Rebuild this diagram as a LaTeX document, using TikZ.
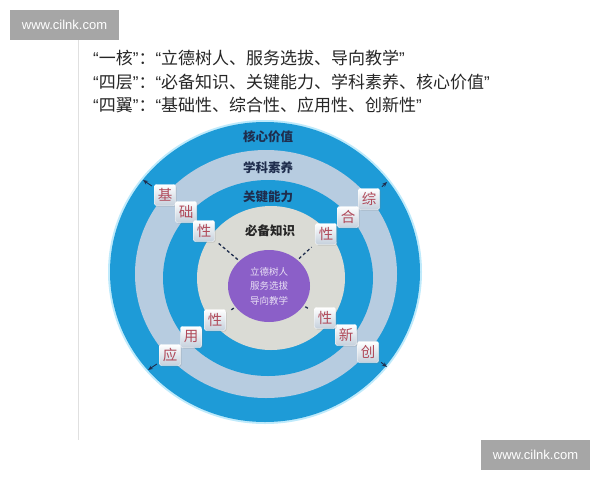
\documentclass[tikz,border=0pt]{standalone}
\usepackage{fontspec}
\setmainfont{Liberation Sans}
\newfontfamily\cjk{Noto Sans CJK SC}
\usetikzlibrary{arrows.meta,shapes.geometric,shadows}

\definecolor{ringblue}{HTML}{1E9BD7}
\definecolor{ringpale}{HTML}{B7CCE0}
\definecolor{ringbeige}{HTML}{DADBD5}
\definecolor{corepurple}{HTML}{8B5FC8}
\definecolor{ringtext}{HTML}{1F2D4D}
\definecolor{wingred}{HTML}{B04A5A}
\definecolor{tilegray}{HTML}{C5D0DC}
\definecolor{markgray}{HTML}{A6A6A6}

% narrow western quotes inside the CJK heading
\newcommand{\hopen}{{\normalfont “}}
\newcommand{\hclose}{{\normalfont ”}}

\tikzset{
  watermark/.style={fill=markgray, text=white, inner sep=0pt,
    minimum width=109pt, minimum height=30pt,
    font=\fontsize{13}{13}\selectfont},
  heading/.style={anchor=west, inner sep=0pt, text=black!85,
    font=\cjk\fontsize{17}{17}\selectfont},
  ringlabel/.style={inner sep=1pt, text=ringtext,
    font=\cjk\bfseries\fontsize{12.5}{13}\selectfont},
  core/.style={ellipse, fill=corepurple, minimum width=82pt, minimum height=72pt,
    inner sep=0pt, align=center, text=white!80!corepurple,
    font=\cjk\fontsize{9.5}{14.5}\selectfont},
  wing/.style={draw=white, line width=0.4pt, rounded corners=2pt,
    top color=white, bottom color=tilegray, minimum size=21pt, inner sep=0pt,
    text=wingred, font=\cjk\fontsize{14.5}{14.5}\selectfont,
    drop shadow={opacity=0.25, shadow xshift=1pt, shadow yshift=-1pt}},
  link/.style={ringtext, line width=1.3pt, dash pattern=on 3pt off 2.5pt},
  outarrow/.style={ringtext, line width=0.9pt, -{Stealth[length=5pt,width=4pt]}}
}

\begin{document}
\begin{tikzpicture}[x=1pt,y=-1pt]
  % Fix the page to the 600 x 480 frame
  \useasboundingbox (0,0) rectangle (600,480);

  % Watermarks, top left and bottom right
  \node[watermark] (wm top) at (64.5,25) {www.cilnk.com};
  \node[watermark] (wm bottom) at (535.5,454.5) {www.cilnk.com};

  % Thin grey rule down the left side
  \draw[black!12, line width=0.8pt] (78,40) -- (78,440);

  % Heading, three lines
  \node[heading] (line one) at (93,58) {\hopen 一核\hclose ：\hopen 立德树人、服务选拔、导向教学\hclose};
  \node[heading] (line two) at (93,82) {\hopen 四层\hclose ：\hopen 必备知识、关键能力、学科素养、核心价值\hclose};
  \node[heading] (line three) at (93,105) {\hopen 四翼\hclose ：\hopen 基础性、综合性、应用性、创新性\hclose};

  % Rings, outside in
  \fill[cyan!25] (265,272) ellipse [x radius=157, y radius=152];
  \fill[ringblue] (265,272) ellipse [x radius=155, y radius=150];
  \fill[ringpale] (266,274) ellipse [x radius=131, y radius=124];
  \fill[ringblue] (268,278) ellipse [x radius=105, y radius=98];
  \fill[ringbeige] (271,278) ellipse [x radius=74, y radius=72];

  % Ring labels
  \node[ringlabel] (values) at (268,137) {核心价值};
  \node[ringlabel] (literacy) at (268,168) {学科素养};
  \node[ringlabel] (abilities) at (268,197) {关键能力};
  \node[ringlabel, text=black!85] (knowledge) at (270,231) {必备知识};

  % Core
  \node[core] (core) at (269,286) {立德树人\\服务选拔\\导向教学};

  % Wing tiles, outer tile first
  \foreach \name/\pos/\ch in {ul1/{(165,195)}/基, ul2/{(186,212)}/础, ul3/{(204,231)}/性,
                             ur1/{(369,199)}/综, ur2/{(348,217)}/合, ur3/{(326,234)}/性,
                             ll1/{(170,355)}/应, ll2/{(191,337)}/用, ll3/{(215,320)}/性,
                             lr1/{(368,352)}/创, lr2/{(346,335)}/新, lr3/{(325,318)}/性}
    \node[wing] (\name) at \pos {\ch};

  % Arrow tips at the outer rim
  \coordinate (ul tip) at (143,180);
  \coordinate (ur tip) at (387,182);
  \coordinate (ll tip) at (148,370);
  \coordinate (lr tip) at (387,367);

  % Dashed links from the core to the inner tiles
  \foreach \w in {ul,ur,ll,lr}
    \draw[link, shorten <=2pt, shorten >=5pt] (core) -- (\w3);

  % Arrows out of the outer tiles
  \foreach \w in {ul,ur,ll,lr}
    \draw[outarrow, shorten <=3pt] (\w1) -- (\w\space tip);
\end{tikzpicture}
\end{document}
